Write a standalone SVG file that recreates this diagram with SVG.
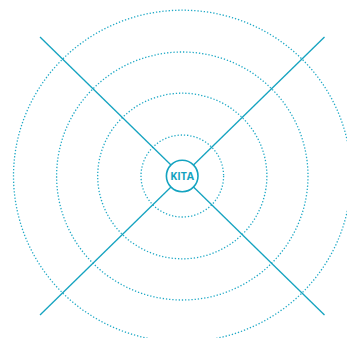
<svg xmlns="http://www.w3.org/2000/svg" width="347" height="338" viewBox="0 0 347 338">
<style>
.ring{fill:none;stroke:#1fa9c6;stroke-width:1.3;stroke-dasharray:1.3 1.9}
.ray{stroke:#14a3c0;stroke-width:1.3;fill:none}
.hub{fill:#fff;stroke:#14a3c0;stroke-width:1.6}
.lbl{font-family:"Open Sans","Liberation Sans",sans-serif;font-weight:700;font-size:10.5px;fill:#14a3c0}
</style>
<rect width="347" height="338" fill="#fff"/>
<g id="rings">
<ellipse class="ring" cx="182.3" cy="176" rx="168.8" ry="165.8"/>
<ellipse class="ring" cx="182.3" cy="176" rx="125.7" ry="124"/>
<ellipse class="ring" cx="182.3" cy="176" rx="84.6" ry="82.8"/>
<ellipse class="ring" cx="182.3" cy="176" rx="41.3" ry="41"/>
</g>
<g id="connectors">
<line class="ray" x1="40" y1="37" x2="324.5" y2="315"/>
<line class="ray" x1="324.5" y1="37" x2="40" y2="315"/>
</g>
<g id="kita">
<circle class="hub" cx="182.2" cy="176" r="15.8"/>
<text class="lbl" x="182.2" y="179.6" text-anchor="middle">KITA</text>
</g>
</svg>
